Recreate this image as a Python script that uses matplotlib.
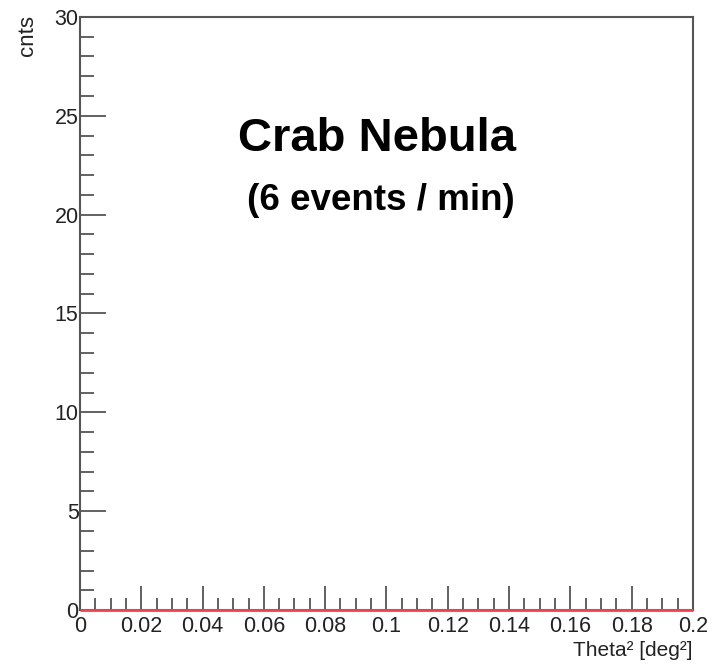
import matplotlib.pyplot as plt
from matplotlib.ticker import MultipleLocator
import numpy as np

plt.rcParams['font.family'] = ['Liberation Sans', 'DejaVu Sans']

# histogram: theta^2 bins, counts (all empty)
bin_edges = np.linspace(0, 0.2, 41)
counts = [0] * 40

fig = plt.figure(figsize=(7.18, 6.66), dpi=100)
ax = fig.add_axes([0.1114, 0.084, 0.8536, 0.8906])

ax.stairs(counts, bin_edges, color='#f5404e', linewidth=2, zorder=3, clip_on=False)

ax.set_xlim(0, 0.2)
ax.set_ylim(0, 30)

ax.xaxis.set_major_locator(MultipleLocator(0.02))
ax.xaxis.set_minor_locator(MultipleLocator(0.005))
ax.yaxis.set_major_locator(MultipleLocator(5))
ax.yaxis.set_minor_locator(MultipleLocator(1))

ax.xaxis.set_major_formatter(lambda v, p: ('%.2f' % v).rstrip('0').rstrip('.') if v else '0')

for s in ax.spines.values():
    s.set_color('#555555')
    s.set_linewidth(1.5)

ax.tick_params(which='both', direction='in', color='#555555', width=1.3,
               top=False, right=False, labelsize=15.5, labelcolor='#222222')
ax.tick_params(which='major', length=17)
ax.tick_params(which='minor', length=9)
ax.tick_params(axis='y', which='major', length=19)
ax.tick_params(axis='y', which='minor', length=10)
ax.tick_params(axis='x', pad=4)
ax.tick_params(axis='y', pad=1)

ax.text(0.484, 0.794, 'Crab Nebula', transform=ax.transAxes, ha='center', va='center',
        fontsize=34, fontweight='bold', color='black')
ax.text(0.491, 0.690, '(6 events / min)', transform=ax.transAxes, ha='center', va='center',
        fontsize=26.5, fontweight='bold', color='black')

fig.text(0.965, 0.015, 'Theta\u00b2 [deg\u00b2]', ha='right', va='baseline',
         fontsize=15, color='#222222')
fig.text(0.038, 0.978, 'cnts', rotation=90, ha='center', va='top',
         fontsize=16, color='#222222')

fig.savefig('out.png', dpi=100)
